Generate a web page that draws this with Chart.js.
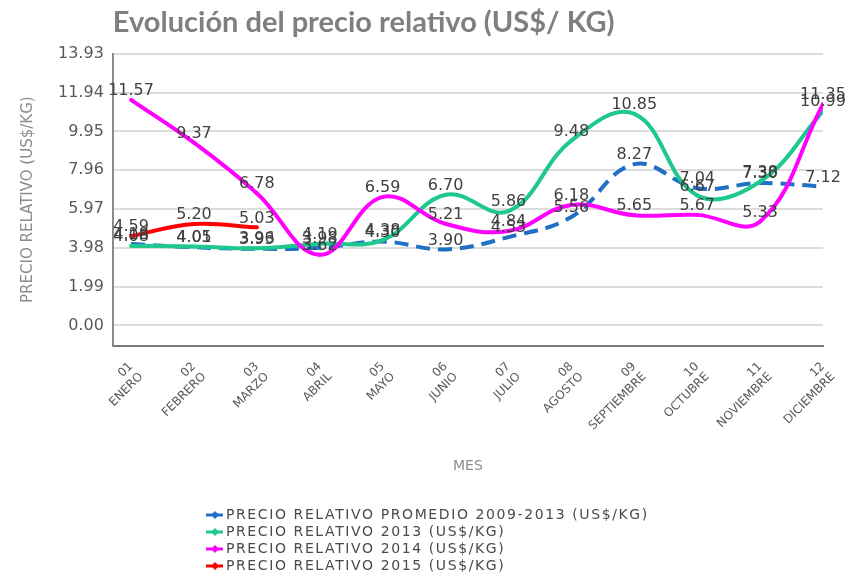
<!DOCTYPE html>
<html>
<head>
<meta charset="utf-8">
<script src="https://cdn.jsdelivr.net/npm/chart.js@4.4.0/dist/chart.umd.min.js"></script>
<style>
  html, body { margin: 0; padding: 0; background: #fff; }
  #contenedor { width: 856px; height: 583px; }
</style>
</head>
<body>
<div id="contenedor"><canvas id="grafico"></canvas></div>
<script>
// Datos
const meses = [
    ['01', 'ENERO'], ['02', 'FEBRERO'], ['03', 'MARZO'], ['04', 'ABRIL'],
    ['05', 'MAYO'], ['06', 'JUNIO'], ['07', 'JULIO'], ['08', 'AGOSTO'],
    ['09', 'SEPTIEMBRE'], ['10', 'OCTUBRE'], ['11', 'NOVIEMBRE'], ['12', 'DICIEMBRE']
];
const ticksY = [0, 1.99, 3.98, 5.97, 7.96, 9.95, 11.94, 13.93];
const promedio = [4.18, 4.01, 3.93, 3.98, 4.30, 3.90, 4.53, 5.56, 8.27, 7.04, 7.30, 7.12];
const precio2013 = [4.08, 4.05, 3.96, 4.19, 4.38, 6.70, 5.86, 9.48, 10.85, 6.67, 7.38, 10.99];
const precio2014 = [11.57, 9.37, 6.78, 3.62, 6.59, 5.21, 4.84, 6.18, 5.65, 5.67, 5.33, 11.35];
const precio2015 = [4.59, 5.20, 5.03];

const FUENTE = '"DejaVu Sans", sans-serif';

// convertir una serie en puntos {x, y} sobre el eje de meses
const puntos = serie => serie.map((v, i) => ({ x: i, y: v }));

// Etiquetas de valores encima de cada punto
const etiquetas = {
    id: 'etiquetas',
    afterDatasetsDraw(chart) {
        const ctx = chart.ctx;
        ctx.save();
        ctx.font = '16px ' + FUENTE;
        ctx.fillStyle = '#404040';
        ctx.textAlign = 'center';
        ctx.textBaseline = 'middle';
        chart.data.datasets.forEach((ds, i) => {
            const meta = chart.getDatasetMeta(i);
            meta.data.forEach((pt, j) => {
                ctx.fillText(ds.data[j].y.toFixed(2), pt.x, pt.y - 9);
            });
        });
        ctx.restore();
    }
};

// Leyenda en lista vertical, centrada bajo el gráfico
const leyenda = {
    id: 'leyenda',
    afterDraw(chart) {
        const ctx = chart.ctx;
        const series = chart.data.datasets;
        ctx.save();
        ctx.font = '14px ' + FUENTE;
        if ('letterSpacing' in ctx) ctx.letterSpacing = '1.6px';
        const ancho = 22 + Math.max(...series.map(s => ctx.measureText(s.label).width));
        const x0 = Math.round((chart.width - ancho) / 2);
        const y0 = chart.height - chart.options.layout.padding.bottom + 30;
        series.forEach((s, i) => {
            const y = y0 + i * 17;
            ctx.strokeStyle = s.borderColor;
            ctx.lineWidth = 3;
            ctx.setLineDash([]);
            ctx.beginPath();
            ctx.moveTo(x0, y);
            ctx.lineTo(x0 + 17, y);
            ctx.stroke();
            ctx.fillStyle = s.borderColor;
            ctx.beginPath();
            ctx.moveTo(x0 + 9, y - 4);
            ctx.lineTo(x0 + 13, y);
            ctx.lineTo(x0 + 9, y + 4);
            ctx.lineTo(x0 + 5, y);
            ctx.closePath();
            ctx.fill();
            ctx.fillStyle = '#4a4a4a';
            ctx.textAlign = 'left';
            ctx.textBaseline = 'middle';
            ctx.fillText(s.label, x0 + 20, y);
        });
        ctx.restore();
    }
};

const serie = (label, datos, color, orden, extra) => Object.assign({
    label: label,
    data: puntos(datos),
    borderColor: color,
    backgroundColor: color,
    borderWidth: 4,
    pointRadius: 2,
    pointBorderWidth: 0,
    tension: 0.4,
    order: orden
}, extra || {});

new Chart(document.getElementById('grafico'), {
    type: 'line',
    data: {
        datasets: [
            serie('PRECIO RELATIVO PROMEDIO 2009-2013 (US$/KG)', promedio, '#1f6fc4', 4, { borderDash: [14, 8], pointRadius: 0 }),
            serie('PRECIO RELATIVO 2013 (US$/KG)', precio2013, '#1fc98e', 3),
            serie('PRECIO RELATIVO 2014 (US$/KG)', precio2014, '#ff00ff', 2),
            serie('PRECIO RELATIVO 2015 (US$/KG)', precio2015, '#ff0000', 1)
        ]
    },
    options: {
        responsive: true,
        maintainAspectRatio: false,
        animation: false,
        layout: { padding: { left: 15, right: 33, top: 0, bottom: 98 } },
        plugins: {
            legend: { display: false },
            tooltip: { enabled: false },
            title: {
                display: true,
                text: 'Evolución del precio relativo (US$/ KG)',
                align: 'start',
                fullSize: false,
                color: '#7f7f7f',
                font: { family: 'Lato, "Open Sans", sans-serif', size: 29, weight: 'bold' },
                padding: { top: 5, bottom: 14 }
            }
        },
        scales: {
            x: {
                type: 'linear',
                min: -0.29,
                max: 11,
                afterBuildTicks: axis => { axis.ticks = meses.map((m, i) => ({ value: i })); },
                ticks: {
                    autoSkip: false,
                    minRotation: 45,
                    maxRotation: 45,
                    padding: 6,
                    color: '#595959',
                    font: { family: FUENTE, size: 12 },
                    callback: v => meses[v]
                },
                grid: { display: false },
                border: { display: true, color: '#7a7a7a', width: 2 },
                title: {
                    display: true,
                    text: 'MES',
                    color: '#8c8c8c',
                    font: { family: FUENTE, size: 14 },
                    padding: { top: 19, bottom: 10 }
                }
            },
            y: {
                min: -1.03,
                max: 13.93,
                afterBuildTicks: axis => { axis.ticks = ticksY.map(v => ({ value: v })); },
                ticks: {
                    padding: 9,
                    color: '#595959',
                    font: { family: FUENTE, size: 16 },
                    callback: v => v.toFixed(2)
                },
                grid: { color: '#dcdcdc', lineWidth: 2, drawTicks: false },
                border: { display: true, color: '#8a8a8a', width: 2 },
                title: {
                    display: true,
                    text: 'PRECIO RELATIVO (US$/KG)',
                    color: '#8c8c8c',
                    font: { family: FUENTE, size: 15 },
                    padding: { top: 4, bottom: 12 }
                }
            }
        }
    },
    plugins: [etiquetas, leyenda]
});
</script>
</body>
</html>
